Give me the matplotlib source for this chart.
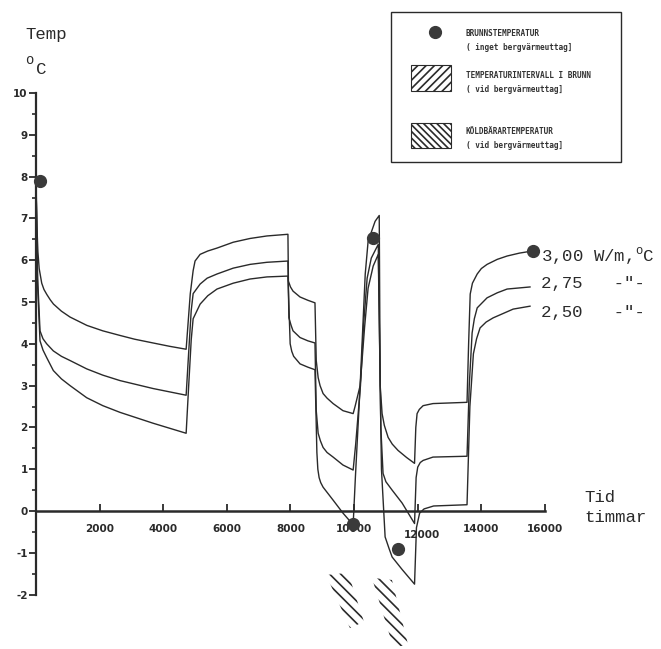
import matplotlib
matplotlib.use("Agg")
import matplotlib.pyplot as plt
from matplotlib.patches import Polygon, Rectangle
from matplotlib import transforms

# avlasta varden: tid (timmar) och temperatur (grader C)
t_300 = [0, 30, 60, 100, 180, 250, 340, 450, 550, 800, 1070, 1600, 2100, 2640, 3100, 3680, 4200, 4720,
         4850, 4940, 5000, 5160, 5400, 5690, 6200, 6730, 7260, 7920,
         7935, 8000, 8080, 8300, 8550, 8770,
         8810, 8870, 8930, 9025, 9150, 9340, 9650, 9970,
         10030, 10190, 10350, 10440, 10660, 10790,
         10820, 10880, 10950, 11070, 11200, 11380, 11650, 11900,
         11940, 11980, 12050, 12170, 12480, 13550,
         13600, 13650, 13720, 13870, 14000, 14180, 14500, 14810, 15200, 15600]
T_300 = [7.9, 6.8, 6.2, 5.8, 5.45, 5.3, 5.18, 5.05, 4.95, 4.78, 4.64, 4.44, 4.31, 4.2, 4.11, 4.02, 3.94, 3.87,
         5.2, 5.75, 5.98, 6.14, 6.22, 6.29, 6.43, 6.52, 6.58, 6.62,
         5.5, 5.36, 5.26, 5.12, 5.04, 4.98,
         3.6, 3.19, 3.0, 2.81, 2.7, 2.57, 2.4, 2.33,
         2.5, 3.0, 5.67, 6.45, 6.93, 7.07,
         3.0, 2.33, 2.05, 1.76, 1.6, 1.45, 1.28, 1.14,
         2.0, 2.33, 2.43, 2.52, 2.57, 2.6,
         4.0, 5.19, 5.45, 5.67, 5.8, 5.9, 6.02, 6.1, 6.17, 6.22]

t_275 = [0, 50, 126, 220, 336, 545, 800, 1070, 1594, 2100, 2640, 3680, 4720,
         4800, 4880, 4940, 5160, 5380, 5690, 6200, 6730, 7260, 7920,
         7950, 8020, 8080, 8300, 8550, 8770,
         8810, 8870, 8940, 9025, 9150, 9340, 9650, 9970,
         10050, 10200, 10300, 10410, 10540, 10760,
         10840, 10910, 11000, 11195, 11510, 11900,
         11950, 12000, 12080, 12170, 12480, 13550,
         13620, 13710, 13780, 13870, 14180, 14500, 14810, 15530]
T_275 = [7.9, 5.6, 4.31, 4.12, 4.0, 3.83, 3.7, 3.6, 3.4, 3.25, 3.12, 2.93, 2.77,
         3.8, 4.8, 5.2, 5.43, 5.57, 5.67, 5.81, 5.9, 5.95, 5.98,
         4.62, 4.44, 4.31, 4.15, 4.07, 4.02,
         2.4, 1.86, 1.68, 1.52, 1.4, 1.29, 1.1, 0.98,
         1.6, 3.0, 4.48, 5.57, 6.05, 6.38,
         2.0, 0.9, 0.7, 0.5, 0.19, -0.3,
         0.8, 1.05, 1.16, 1.21, 1.29, 1.31,
         3.0, 4.26, 4.6, 4.86, 5.1, 5.22, 5.31, 5.36]

t_250 = [0, 50, 126, 220, 336, 545, 800, 1070, 1594, 2100, 2640, 3680, 4720,
         4800, 4880, 4940, 5160, 5400, 5690, 6200, 6730, 7260, 7920,
         7990, 8040, 8100, 8300, 8550, 8770,
         8830, 8860, 8900, 8950, 9025, 9340, 9650, 9970,
         10040, 10190, 10330, 10440, 10600, 10760,
         10860, 10975, 11100, 11195, 11510, 11900,
         11960, 12060, 12200, 12500, 13550,
         13640, 13750, 13850, 13960, 14150, 14370, 15000, 15530]
T_250 = [7.9, 5.4, 4.07, 3.85, 3.67, 3.36, 3.16, 3.0, 2.71, 2.52, 2.36, 2.1, 1.86,
         3.0, 4.1, 4.6, 4.95, 5.15, 5.31, 5.45, 5.55, 5.6, 5.62,
         4.0, 3.82, 3.7, 3.52, 3.44, 3.38,
         1.4, 1.0, 0.8, 0.68, 0.57, 0.26, -0.05, -0.33,
         0.8, 3.0, 4.4, 5.33, 5.86, 6.14,
         1.0, -0.62, -0.9, -1.1, -1.4, -1.75,
         -0.4, -0.05, 0.05, 0.12, 0.15,
         2.5, 3.76, 4.12, 4.38, 4.52, 4.62, 4.83, 4.9]

# brunnstemperatur utan bergvarmeuttag
dot_t = [120, 9970, 10600, 11380, 15620]
dot_T = [7.9, -0.3, 6.52, -0.9, 6.22]

# koldbarartemperatur (streckade omraden under axeln)
band1_t = [9120, 9810, 10310, 9870]
band1_T = [-1.53, -1.48, -2.65, -2.80]
band2_t = [10560, 11190, 11700, 11230]
band2_T = [-1.60, -1.65, -3.21, -3.25]

x_ticks = [2000, 4000, 6000, 8000, 10000, 12000, 14000, 16000]
y_ticks = list(range(-2, 11))
curve_labels = ["3,00 W/m,$^{\\rm o}$C", "2,75   -\"-", "2,50   -\"-"]

W, H = 661, 649
plt.rcParams['mathtext.fontset'] = 'custom'
plt.rcParams['mathtext.rm'] = 'Liberation Mono'
plt.rcParams['hatch.linewidth'] = 1.2

fig = plt.figure(figsize=(W / 100, H / 100), dpi=100)
ax = fig.add_axes([0, 0, 1, 1])
ax.set_xlim(-36 / 0.03181, (W - 36) / 0.03181)
ax.set_ylim(-(H - 511) / 41.8, 511 / 41.8)

ink = '#2a2a2a'
for t, T in [(t_300, T_300), (t_275, T_275), (t_250, T_250)]:
    ax.plot(t, T, color=ink, lw=1.0, solid_joinstyle='round')
ax.plot(dot_t, dot_T, 'o', color='#3a3a3a', ms=8.5, zorder=5)

for bt, bT in [(band1_t, band1_T), (band2_t, band2_T)]:
    ax.add_patch(Polygon(list(zip(bt, bT)), closed=True, fill=False,
                         hatch='\\\\\\', edgecolor=ink, lw=0))

# axlar
for s in ['top', 'right']:
    ax.spines[s].set_visible(False)
ax.spines['left'].set_position(('data', 0))
ax.spines['left'].set_bounds(-2, 10)
ax.spines['left'].set_linewidth(1.6)
ax.spines['bottom'].set_position(('data', 0))
ax.spines['bottom'].set_bounds(0, 16000)
ax.spines['bottom'].set_linewidth(1.8)
ax.spines['left'].set_color(ink)
ax.spines['bottom'].set_color(ink)

ax.set_xticks(x_ticks)
ax.set_xticklabels([str(v) for v in x_ticks])
ax.tick_params(axis='x', direction='in', length=5, width=1.3, pad=9,
               colors=ink, labelsize=7.5)
ax.set_yticks(y_ticks)
ax.set_yticklabels([str(v) for v in y_ticks])
ax.set_yticks([v + 0.5 for v in y_ticks[:-1]], minor=True)
ax.tick_params(axis='y', which='major', direction='out', length=5, width=1.3,
               pad=1, colors=ink, labelsize=7.5)
ax.tick_params(axis='y', which='minor', direction='out', length=3, width=1.2,
               colors=ink)
for lab in ax.get_xticklabels() + ax.get_yticklabels():
    lab.set_fontweight('bold')
# 12000 star lite lagre i originalet
lab12 = ax.get_xticklabels()[x_ticks.index(12000)]
lab12.set_transform(lab12.get_transform() +
                    transforms.ScaledTranslation(4 / 100, -7 / 100, fig.dpi_scale_trans))


def px(x, y):
    return x / W, 1 - y / H


mono = 'Liberation Mono'
ax.text(*px(25, 35), "Temp", transform=ax.transAxes, family=mono, fontsize=12.5,
        va='center', color=ink)
ax.text(*px(25, 60), "o", transform=ax.transAxes, family=mono, fontsize=10,
        va='center', color=ink)
ax.text(*px(36, 70), "C", transform=ax.transAxes, family=mono, fontsize=12.5,
        va='center', color=ink)
ax.text(*px(584, 497), "Tid", transform=ax.transAxes, family=mono, fontsize=12.5,
        va='center', color=ink)
ax.text(*px(584, 518), "timmar", transform=ax.transAxes, family=mono, fontsize=12.5,
        va='center', color=ink)
for lbl, y in zip(curve_labels, [256, 283, 312]):
    ax.text(*px(541, y), lbl, transform=ax.transAxes, family=mono, fontsize=12.5,
            va='center', color=ink)

# teckenforklaring
ax.add_patch(Rectangle(px(391, 162), 230 / W, 150 / H, transform=ax.transAxes,
                       fill=False, edgecolor=ink, lw=1.0))
ax.plot(*px(435, 32), 'o', transform=ax.transAxes, color='#3a3a3a', ms=8.5)
ax.add_patch(Rectangle(px(411, 91), 40 / W, 26 / H, transform=ax.transAxes,
                       fill=False, hatch='////', edgecolor=ink, lw=0.8))
ax.add_patch(Rectangle(px(411, 148), 40 / W, 25 / H, transform=ax.transAxes,
                       fill=False, hatch='\\\\\\\\\\', edgecolor=ink, lw=0.8))
legend_lines = [("BRUNNSTEMPERATUR", 33), ("( inget bergvärmeuttag]", 48),
                ("TEMPERATURINTERVALL I BRUNN", 75), ("( vid bergvärmeuttag]", 89),
                ("KÖLDBÄRARTEMPERATUR", 132), ("( vid bergvärmeuttag]", 146)]
for txt, y in legend_lines:
    ax.text(*px(466, y), txt, transform=ax.transAxes, family='DejaVu Sans Mono',
            fontweight='bold', fontsize=5.6, va='center', color='#333333')

fig.savefig("out.png", dpi=100, facecolor='white')
